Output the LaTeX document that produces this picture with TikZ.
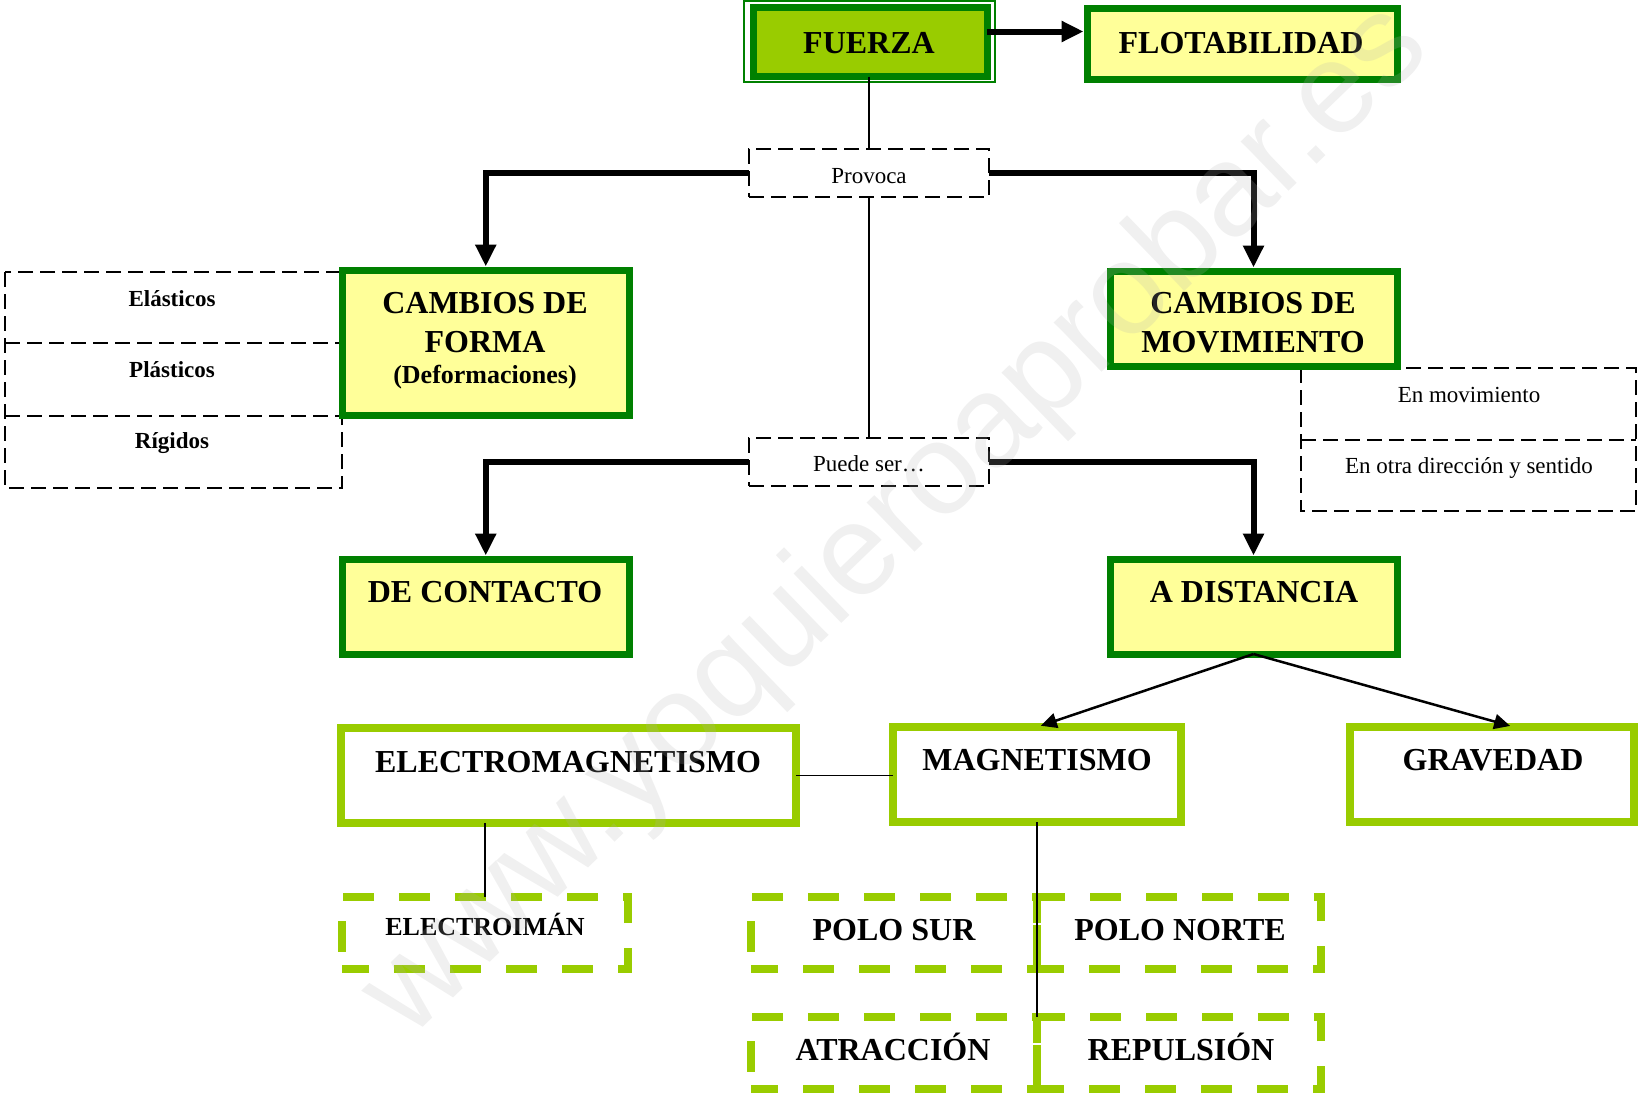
\documentclass[tikz,border=0pt]{standalone}
\usepackage{fontspec}
\setmainfont{Liberation Serif}
\newfontfamily\wmfont{Liberation Sans}
\usetikzlibrary{arrows.meta}
\definecolor{dkgreen}{HTML}{008000}
\definecolor{ltgreen}{HTML}{99CC00}
\definecolor{paleyellow}{HTML}{FFFF99}
\begin{document}
\begin{tikzpicture}[x=1pt,y=-1pt,
  boxdk/.style={draw=dkgreen, line width=7pt, fill=paleyellow, inner sep=0pt, outer sep=0pt},
  boxlt/.style={draw=ltgreen, line width=8pt, fill=white, inner sep=0pt, outer sep=0pt},
  dashgreen/.style={draw=ltgreen, line width=7.5pt, dash pattern=on 31pt off 25pt, dash phase=4pt, inner sep=0pt, outer sep=0pt},
  dashblack/.style={draw=black, line width=1.8pt, dash pattern=on 15pt off 7pt, inner sep=0pt, outer sep=0pt},
  cell/.style={inner sep=0pt, outer sep=0pt},
  big/.style={font=\fontsize{32}{38}\selectfont\bfseries, anchor=base, inner sep=0pt},
  mid/.style={font=\fontsize{26}{30}\selectfont\bfseries, anchor=base, inner sep=0pt},
  smallb/.style={font=\fontsize{23}{27}\selectfont\bfseries, anchor=base, inner sep=0pt},
  smallr/.style={font=\fontsize{23}{27}\selectfont, anchor=base, inner sep=0pt},
  thickarr/.style={draw=black, line width=6pt, -{Triangle[length=22pt,width=20pt]}, shorten >=3.5pt},
  thinarr/.style={draw=black, line width=2.5pt, -{Triangle[length=16pt,width=15pt]}, shorten >=4pt},
  thinl/.style={draw=black, line width=1.5pt},
  wm/.style={font=\wmfont\fontsize{130}{130}\selectfont, text=black!30, text opacity=0.2, rotate=44, inner sep=0pt}
]
\useasboundingbox (0,0) rectangle (1638,1096);

% dashed side boxes (black), drawn as one outline with separators
\node[cell, minimum width=337pt, minimum height=71pt] (elasticos) at (173.5,307.5) {};
\node[cell, minimum width=337pt, minimum height=73pt] (plasticos) at (173.5,379.5) {};
\node[cell, minimum width=337pt, minimum height=72pt] (rigidos) at (173.5,452) {};
\draw[dashblack] (elasticos.north west) rectangle (rigidos.south east);
\draw[dashblack] (elasticos.south west) -- (elasticos.south east);
\draw[dashblack] (plasticos.south west) -- (plasticos.south east);
\node[cell, minimum width=335pt, minimum height=72pt] (enmov) at (1468.5,404) {};
\node[cell, minimum width=335pt, minimum height=71pt] (enotra) at (1468.5,475.5) {};
\draw[dashblack] (enmov.north west) rectangle (enotra.south east);
\draw[dashblack] (enmov.south west) -- (enmov.south east);
\node[dashblack, minimum width=240pt, minimum height=48pt] (provoca) at (869,173) {};
\node[dashblack, minimum width=240pt, minimum height=48pt] (puede) at (869,462) {};

% main boxes
\draw[dkgreen, line width=1.5pt] (744,1) rectangle (995,82);
\node[boxdk, fill=ltgreen, minimum width=234pt, minimum height=69pt] (fuerza) at (870,42) {};
\node[boxdk, minimum width=310pt, minimum height=71pt] (flotabilidad) at (1242,43.5) {};
\node[boxdk, minimum width=287.5pt, minimum height=145pt] (forma) at (485.75,342.5) {};
\node[boxdk, minimum width=287pt, minimum height=95pt] (movimiento) at (1253.5,318.5) {};
\node[boxdk, minimum width=287.5pt, minimum height=95pt] (contacto) at (485.75,606.5) {};
\node[boxdk, minimum width=287pt, minimum height=95pt] (distancia) at (1253.5,606.5) {};
\node[boxlt, minimum width=455.5pt, minimum height=95pt] (electromag) at (568.25,775.5) {};
\node[boxlt, minimum width=288pt, minimum height=95pt] (magnetismo) at (1037,774.5) {};
\node[boxlt, minimum width=284pt, minimum height=95pt] (gravedad) at (1492,774.5) {};
\node[dashgreen, minimum width=286pt, minimum height=72pt] (electroiman) at (485,933) {};
\node[dashgreen, minimum width=286pt, minimum height=72pt] (polosur) at (894,933) {};
\node[dashgreen, minimum width=284pt, minimum height=72pt] (polonorte) at (1179,933) {};
\node[dashgreen, minimum width=286pt, minimum height=72pt] (atraccion) at (894,1053) {};
\node[dashgreen, minimum width=284pt, minimum height=72pt] (repulsion) at (1179,1053) {};

% connectors
\draw[thickarr] ([yshift=10.5pt]fuerza.east) -- ([yshift=12pt]flotabilidad.west);
\draw[thinl] (provoca.north |- fuerza.south) -- (provoca.north);
\draw[thickarr] (provoca.west) -| (forma.north);
\draw[thickarr] (provoca.east) -| (movimiento.north);
\draw[thinl] (provoca.south) -- (puede.north);
\draw[thickarr] (puede.west) -| (contacto.north);
\draw[thickarr] (puede.east) -| (distancia.north);
\draw[thinarr] (distancia.south) -- (magnetismo.north);
\draw[thinarr] (distancia.south) -- ([xshift=22pt]gravedad.north);
\draw[thinl] (electromag.east) -- (electromag.east -| magnetismo.west);
\draw[thinl] (electroiman.north |- electromag.south) -- (electroiman.north);
\draw[thinl] (magnetismo.south) -- (atraccion.north east);

% texts
\node[big] (t-fuerza) at (869,53) {FUERZA};
\node[big] (t-flot) at (1241,53) {FLOTABILIDAD};
\node[smallr] (t-provoca) at (869,183) {Provoca};
\node[big] (t-forma1) at (485,313) {CAMBIOS DE};
\node[big] (t-forma2) at (485,352) {FORMA};
\node[mid] (t-forma3) at (485,383) {(Deformaciones)};
\node[smallb] (t-elast) at (172,306) {Elásticos};
\node[smallb] (t-plast) at (172,377) {Plásticos};
\node[smallb] (t-rig) at (172,448) {Rígidos};
\node[big] (t-mov1) at (1253,313) {CAMBIOS DE};
\node[big] (t-mov2) at (1253,352) {MOVIMIENTO};
\node[smallr] (t-enmov) at (1469,402) {En movimiento};
\node[smallr] (t-enotra) at (1469,473) {En otra dirección y sentido};
\node[smallr] (t-puede) at (869,471) {Puede ser…};
\node[big] (t-contacto) at (485,602) {DE CONTACTO};
\node[big] (t-distancia) at (1254,602) {A DISTANCIA};
\node[big] (t-electromag) at (568,772) {ELECTROMAGNETISMO};
\node[big] (t-magnet) at (1037,770) {MAGNETISMO};
\node[big] (t-grav) at (1493,770) {GRAVEDAD};
\node[mid] (t-electroiman) at (485,935) {ELECTROIMÁN};
\node[big] (t-sur) at (894,940) {POLO SUR};
\node[big] (t-norte) at (1180,940) {POLO NORTE};
\node[big] (t-atrac) at (893,1060) {ATRACCIÓN};
\node[big] (t-repul) at (1181,1060) {REPULSIÓN};

% watermark
\node[wm] (watermark) at (898,522) {www.yoquieroaprobar.es};
\end{tikzpicture}
\end{document}
